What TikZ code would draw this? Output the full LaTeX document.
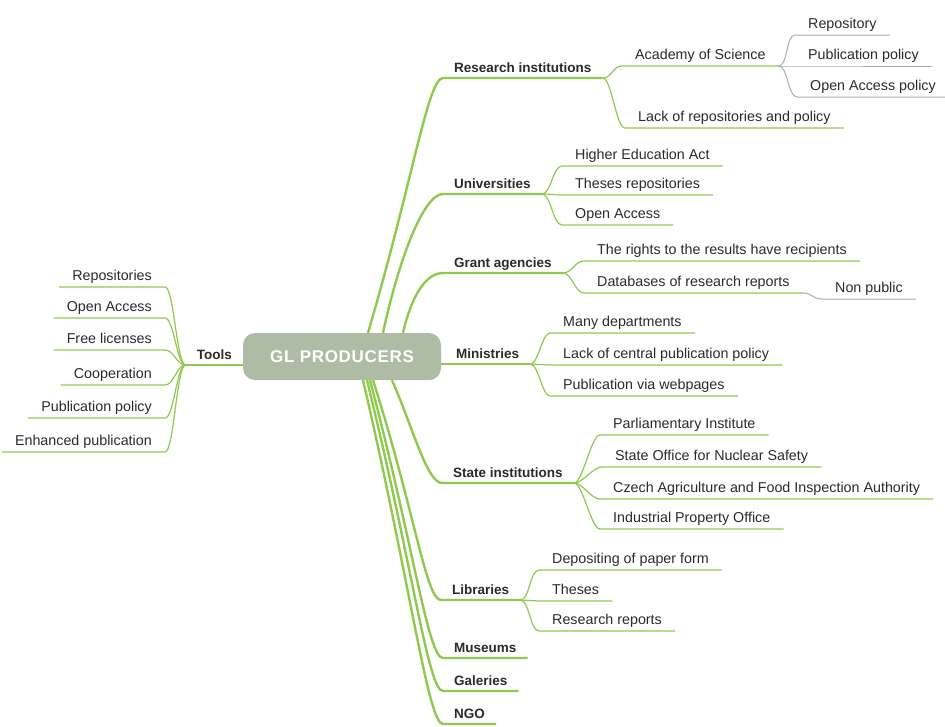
\documentclass[tikz,border=0pt]{standalone}
\usepackage{fontspec}
\setmainfont{Liberation Sans}
\definecolor{mapgreen}{HTML}{8FC94F}
\definecolor{twiggray}{HTML}{ABABAB}
\definecolor{corefill}{HTML}{AEBCA5}
\definecolor{ink}{HTML}{2A2A2A}

\begin{document}
\begin{tikzpicture}[x=1pt,y=-1pt,
	trunk/.style={draw=mapgreen, line width=2.4pt},
	branch/.style={draw=mapgreen, line width=1.2pt},
	twig/.style={draw=twiggray, line width=1pt},
	core/.style={rectangle, rounded corners=12pt, fill=corefill, text=white,
		minimum width=198pt, minimum height=47pt,
		font=\fontsize{17}{20}\selectfont\bfseries\addfontfeatures{LetterSpace=4}},
	topic/.style={anchor=south west, text=ink, inner xsep=11pt, inner ysep=2pt,
		text height=10pt, text depth=3pt, font=\fontsize{13.5}{16}\selectfont\bfseries},
	subtopic/.style={anchor=south west, text=ink, inner xsep=13pt, inner ysep=3pt,
		text height=10pt, text depth=3pt, font=\fontsize{14.3}{16}\selectfont}]
	\useasboundingbox (0,0) rectangle (945,726);

	\node[core] (gl) at (342,356.5) {GL PRODUCERS};

	% main topics
	\node[topic] (ri) at (443,78) {Research institutions};
	\node[topic] (uni) at (443,194) {Universities};
	\node[topic] (grant) at (443,273) {Grant agencies};
	\node[topic] (min) at (445,364) {Ministries};
	\node[topic] (state) at (442,483) {State institutions};
	\node[topic] (lib) at (441,600) {Libraries};
	\node[topic] (mus) at (443,658) {Museums};
	\node[topic] (gal) at (443,691) {Galeries};
	\node[topic] (ngo) at (443,724) {NGO};
	\node[topic, anchor=south east] (tools) at (243,365) {Tools};

	% subtopics
	\node[subtopic] (aos) at (622,66) {Academy of Science};
	\node[subtopic] (repo) at (795,35) {Repository};
	\node[subtopic] (pubpol) at (795,66) {Publication policy};
	\node[subtopic] (oapol) at (797,97) {Open Access policy};
	\node[subtopic] (lack) at (625,128) {Lack of repositories and policy};

	\node[subtopic] (hea) at (562,166) {Higher Education Act};
	\node[subtopic] (threp) at (562,195) {Theses repositories};
	\node[subtopic] (oa) at (562,225) {Open Access};

	\node[subtopic] (rights) at (584,261) {The rights to the results have recipients};
	\node[subtopic] (db) at (584,293) {Databases of research reports};
	\node[subtopic] (nonpub) at (822,299) {Non public};

	\node[subtopic] (many) at (550,333) {Many departments};
	\node[subtopic] (lackc) at (550,365) {Lack of central publication policy};
	\node[subtopic] (pubweb) at (550,396) {Publication via webpages};

	\node[subtopic] (parl) at (600,435) {Parliamentary Institute};
	\node[subtopic] (sons) at (602,467) {State Office for Nuclear Safety};
	\node[subtopic] (czech) at (600,499) {Czech Agriculture and Food Inspection Authority};
	\node[subtopic] (ipo) at (600,529) {Industrial Property Office};

	\node[subtopic] (dep) at (539,570) {Depositing of paper form};
	\node[subtopic] (theses) at (539,601) {Theses};
	\node[subtopic] (rr) at (539,631) {Research reports};

	\node[subtopic, anchor=south east] (repos) at (165,287) {Repositories};
	\node[subtopic, anchor=south east] (oacc) at (165,318) {Open Access};
	\node[subtopic, anchor=south east] (free) at (165,350) {Free licenses};
	\node[subtopic, anchor=south east] (coop) at (165,385) {Cooperation};
	\node[subtopic, anchor=south east] (pubp) at (165,418) {Publication policy};
	\node[subtopic, anchor=south east] (enh) at (165,452) {Enhanced publication};

	% trunks
	\draw[trunk] ([xshift=26pt]gl.north) .. controls +(45,-153) and +(-15,0) .. (ri.south west) -- (ri.south east);
	\draw[trunk] ([xshift=41pt]gl.north) .. controls +(15,-70) and +(-20,0) .. (uni.south west) -- (uni.south east);
	\draw[trunk] ([xshift=61pt]gl.north) .. controls +(8,-35) and +(-18,0) .. (grant.south west) -- (grant.south east);
	\draw[trunk] (gl.east |- min.south) -- (min.south east);
	\draw[trunk] ([xshift=50pt]gl.south) .. controls +(20,45) and +(-15,0) .. (state.south west) -- (state.south east);
	\draw[trunk] ([xshift=31pt]gl.south) .. controls +(42,132) and +(-15,0) .. (lib.south west) -- (lib.south east);
	\draw[trunk] ([xshift=28pt]gl.south) .. controls +(44,167) and +(-15,0) .. (mus.south west) -- (mus.south east);
	\draw[trunk] ([xshift=25pt]gl.south) .. controls +(46,187) and +(-15,0) .. (gal.south west) -- (gal.south east);
	\draw[trunk] ([xshift=21pt]gl.south) .. controls +(48,206) and +(-15,0) .. (ngo.south west) -- (ngo.south east);
	\draw[trunk] (gl.west |- tools.south) -- (tools.south west);

	% branches
	\draw[branch] (ri.south east) .. controls +(9,0) and +(-9,0) .. (aos.south west) -- (aos.south east);
	\draw[branch] (ri.south east) .. controls +(9,0) and +(-9,0) .. (lack.south west) -- (lack.south east);
	\draw[twig] (aos.south east) .. controls +(9,0) and +(-9,0) .. (repo.south west) -- (repo.south east);
	\draw[twig] (aos.south east) -- (pubpol.south west) -- (pubpol.south east);
	\draw[twig] (aos.south east) .. controls +(9,0) and +(-9,0) .. (oapol.south west) -- (oapol.south east);

	\draw[branch] (uni.south east) .. controls +(9,0) and +(-9,0) .. (hea.south west) -- (hea.south east);
	\draw[branch] (uni.south east) .. controls +(9,0) and +(-9,0) .. (threp.south west) -- (threp.south east);
	\draw[branch] (uni.south east) .. controls +(9,0) and +(-9,0) .. (oa.south west) -- (oa.south east);

	\draw[branch] (grant.south east) .. controls +(9,0) and +(-9,0) .. (rights.south west) -- (rights.south east);
	\draw[branch] (grant.south east) .. controls +(9,0) and +(-9,0) .. (db.south west) -- (db.south east);
	\draw[twig] (db.south east) .. controls +(10,0) and +(-10,0) .. (nonpub.south west) -- (nonpub.south east);

	\draw[branch] (min.south east) .. controls +(8,0) and +(-8,0) .. (many.south west) -- (many.south east);
	\draw[branch] (min.south east) -- (lackc.south west) -- (lackc.south east);
	\draw[branch] (min.south east) .. controls +(8,0) and +(-8,0) .. (pubweb.south west) -- (pubweb.south east);

	\draw[branch] (state.south east) .. controls +(9,0) and +(-9,0) .. (parl.south west) -- (parl.south east);
	\draw[branch] (state.south east) .. controls +(9,0) and +(-9,0) .. (sons.south west) -- (sons.south east);
	\draw[branch] (state.south east) .. controls +(9,0) and +(-9,0) .. (czech.south west) -- (czech.south east);
	\draw[branch] (state.south east) .. controls +(9,0) and +(-9,0) .. (ipo.south west) -- (ipo.south east);

	\draw[branch] (lib.south east) .. controls +(9,0) and +(-9,0) .. (dep.south west) -- (dep.south east);
	\draw[branch] (lib.south east) -- (theses.south west) -- (theses.south east);
	\draw[branch] (lib.south east) .. controls +(9,0) and +(-9,0) .. (rr.south west) -- (rr.south east);

	\draw[branch] (tools.south west) .. controls +(-9,0) and +(9,0) .. (repos.south east) -- (repos.south west);
	\draw[branch] (tools.south west) .. controls +(-9,0) and +(9,0) .. (oacc.south east) -- (oacc.south west);
	\draw[branch] (tools.south west) .. controls +(-9,0) and +(9,0) .. (free.south east) -- (free.south west);
	\draw[branch] (tools.south west) .. controls +(-9,0) and +(9,0) .. (coop.south east) -- (coop.south west);
	\draw[branch] (tools.south west) .. controls +(-9,0) and +(9,0) .. (pubp.south east) -- (pubp.south west);
	\draw[branch] (tools.south west) .. controls +(-9,0) and +(9,0) .. (enh.south east) -- (enh.south west);
\end{tikzpicture}
\end{document}
